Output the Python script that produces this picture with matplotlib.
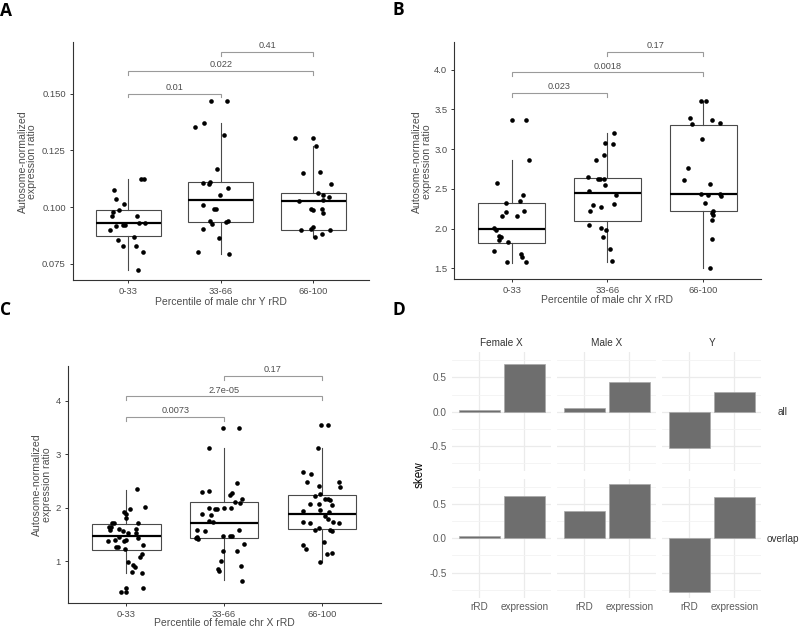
import matplotlib
matplotlib.use("Agg")
import matplotlib.pyplot as plt
import numpy as np

plt.rcParams['font.family'] = ['Liberation Sans', 'DejaVu Sans']

W, H = 800, 628
categories = ['0-33', '33-66', '66-100']

# ---------------- Panel A (male chr Y) ----------------
A1_y = [0.1073, 0.1035, 0.1013, 0.0978, 0.0985, 0.0962, 0.0962, 0.0899, 0.0918, 0.0919, 0.0919,
        0.0931, 0.0928, 0.0868, 0.0854, 0.0829, 0.0828, 0.0803, 0.0724, 0.1122, 0.1122]
A1_dx = [-0.151, -0.129, -0.050, -0.161, -0.100, -0.179, 0.093, -0.194, -0.133, -0.057, -0.032,
         0.118, 0.179, 0.057, -0.108, -0.061, 0.082, 0.154, 0.108, 0.133, 0.165]
A2_y = [0.1469, 0.1469, 0.1371, 0.1351, 0.1318, 0.1168, 0.1104, 0.1101, 0.1111, 0.1085, 0.1051,
        0.1009, 0.0990, 0.0990, 0.0904, 0.0940, 0.0925, 0.0935, 0.0940, 0.0863, 0.0801, 0.0791]
A2_dx = [-0.104, 0.068, -0.179, -0.276, 0.039, -0.039, -0.190, -0.133, -0.118, 0.072, -0.007,
         -0.190, -0.072, -0.057, -0.197, -0.115, -0.097, 0.054, 0.072, -0.022, -0.251, 0.086]
A3_y = [0.1306, 0.1306, 0.1268, 0.1149, 0.1153, 0.1101, 0.1060, 0.1051, 0.1028, 0.1031, 0.1043,
        0.0991, 0.0987, 0.0990, 0.0975, 0.0899, 0.0901, 0.0913, 0.0899, 0.0881, 0.0866]
A3_dx = [-0.197, -0.004, 0.029, -0.111, 0.075, 0.186, 0.054, 0.100, -0.161, 0.108, 0.172,
         -0.022, 0.000, 0.093, 0.108, -0.129, -0.022, -0.007, 0.179, 0.093, 0.018]
# box stats: whislo, q1, median, q3, whishi
A_box = [(0.0724, 0.0870, 0.0930, 0.0985, 0.1122),
         (0.0791, 0.0935, 0.1030, 0.1110, 0.1370),
         (0.0866, 0.0900, 0.1025, 0.1060, 0.1268)]
A_pvals = ['0.01', '0.022', '0.41']
A_bracket_y = [0.1500, 0.1600, 0.1685]

# ---------------- Panel B (male chr X) ----------------
B1_y = [3.367, 3.367, 2.863, 2.578, 2.423, 2.343, 2.318, 2.226, 2.209, 2.163, 2.154,
        2.003, 1.982, 1.907, 1.890, 1.857, 1.827, 1.722, 1.680, 1.638, 1.576, 1.576]
B1_dx = [0.000, 0.153, 0.178, -0.157, 0.118, 0.084, -0.056, 0.129, -0.063, -0.105, 0.056,
         -0.185, -0.160, -0.136, -0.108, -0.129, -0.035, -0.185, 0.094, 0.111, -0.049, 0.153]
B2_y = [3.207, 3.081, 3.060, 2.926, 2.859, 2.649, 2.620, 2.620, 2.628, 2.473, 2.544,
        2.423, 2.301, 2.309, 2.276, 2.226, 2.050, 2.003, 1.982, 1.898, 1.739, 1.588]
B2_dx = [0.070, -0.021, 0.059, -0.035, -0.118, -0.199, -0.094, -0.077, -0.035, -0.192, -0.024,
         0.087, -0.153, 0.066, -0.070, -0.181, -0.192, -0.070, -0.010, -0.045, 0.031, 0.045]
B3_y = [3.610, 3.610, 3.388, 3.316, 3.367, 3.325, 3.128, 2.767, 2.608, 2.566, 2.435,
        2.427, 2.431, 2.414, 2.318, 2.226, 2.192, 2.171, 2.108, 1.869, 1.500]
B3_dx = [-0.024, 0.028, -0.132, -0.111, 0.091, 0.181, -0.014, -0.160, -0.195, 0.077, -0.024,
         0.052, 0.178, 0.185, 0.017, 0.105, 0.098, 0.105, 0.094, 0.098, 0.077]
B_box = [(1.570, 1.820, 2.000, 2.320, 2.860),
         (1.580, 2.090, 2.450, 2.640, 3.200),
         (1.500, 2.220, 2.440, 3.310, 3.610)]
B_pvals = ['0.023', '0.0018', '0.17']
B_bracket_y = [3.71, 3.966, 4.222]

# ---------------- Panel C (female chr X) ----------------
C1_y = [2.351, 2.015, 1.977, 1.921, 1.884, 1.803, 1.722, 1.710, 1.641, 1.635, 1.579, 1.604, 1.573,
        1.722, 1.598, 1.535, 1.535, 1.448, 1.430, 1.386, 1.398, 1.374, 1.398, 1.274, 1.261, 1.237,
        1.311, 1.131, 1.087, 0.994, 0.932, 0.900, 0.795, 0.776, 0.496, 0.434, 0.434, 0.502]
C1_dx = [0.109, 0.187, 0.041, -0.020, -0.007, 0.000, -0.150, -0.129, -0.156, -0.177, -0.167, -0.075,
         -0.031, 0.119, 0.095, 0.102, 0.020, -0.075, 0.119, -0.190, -0.112, -0.020, 0.000, -0.109,
         -0.088, -0.010, 0.173, 0.160, 0.143, 0.017, 0.068, 0.092, 0.061, 0.156, 0.000, -0.003,
         -0.054, 0.170]
C2_y = [3.490, 3.490, 3.110, 2.301, 2.313, 2.456, 2.245, 2.270, 2.114, 2.158, 2.083, 1.996, 1.971,
        1.971, 1.996, 1.996, 1.884, 1.871, 1.747, 1.728, 1.591, 1.566, 1.461, 1.436, 1.423, 1.473,
        1.473, 1.480, 1.585, 1.324, 1.199, 1.187, 1.012, 0.851, 0.813, 0.919, 0.639]
C2_dx = [-0.007, 0.150, -0.153, -0.224, -0.156, 0.129, 0.061, 0.082, 0.116, 0.184, 0.163, -0.150,
         -0.088, -0.071, 0.000, 0.071, -0.228, -0.129, -0.156, -0.109, -0.279, -0.194, -0.279,
         -0.289, -0.269, -0.007, 0.061, 0.085, 0.153, 0.204, -0.014, 0.129, -0.034, -0.065,
         -0.051, 0.177, 0.184]
C3_y = [3.552, 3.552, 3.110, 2.662, 2.631, 2.481, 2.407, 2.481, 2.394, 2.226, 2.264, 2.170, 2.158,
        2.139, 2.077, 2.071, 2.046, 1.952, 1.940, 1.921, 1.847, 1.784, 1.728, 1.710, 1.722, 1.728,
        1.616, 1.585, 1.579, 1.573, 1.311, 1.237, 1.355, 1.162, 1.131, 0.994]
C3_dx = [-0.007, 0.065, -0.037, -0.190, -0.112, -0.156, -0.027, 0.180, 0.190, -0.071, -0.014,
         0.034, 0.065, 0.082, -0.122, -0.031, 0.105, -0.020, -0.190, 0.075, 0.031, 0.065, -0.197,
         -0.122, 0.177, 0.109, -0.027, -0.075, 0.088, 0.099, -0.197, -0.160, 0.020, 0.099, 0.048,
         -0.020]
C_box = [(0.780, 1.210, 1.480, 1.690, 2.330),
         (0.650, 1.440, 1.720, 2.110, 3.110),
         (0.990, 1.610, 1.880, 2.240, 3.110)]
C_pvals = ['0.0073', '2.7e-05', '0.17']
C_bracket_y = [3.70, 4.081, 4.46]

bracket_pairs = [(1, 2), (1, 3), (2, 3)]

# ---------------- Panel D (skew) ----------------
D_cols = ['Female X', 'Male X', 'Y']
D_rows = ['all', 'overlap']
D_xcats = ['rRD', 'expression']
D_all_rRD = [0.019, 0.049, -0.529]
D_all_expr = [0.689, 0.437, 0.282]
D_overlap_rRD = [0.039, 0.393, -0.786]
D_overlap_expr = [0.617, 0.791, 0.607]

fig = plt.figure(figsize=(W / 100, H / 100), dpi=100)


def px_axes(left, top, right, bottom):
    return fig.add_axes([left / W, 1 - bottom / H, (right - left) / W, (bottom - top) / H])


def ftext(x, y, s, **kw):
    fig.text(x / W, 1 - y / H, s, **kw)


TXT = '#4D4D4D'
AXC = '#333333'


def box_panel(ax, ys, dxs, box, pvals, by, ylim, yticks, ytl):
    stats = [dict(whislo=b[0], q1=b[1], med=b[2], q3=b[3], whishi=b[4], fliers=[]) for b in box]
    ax.bxp(stats, positions=[1, 2, 3], widths=0.7, showfliers=False, showcaps=False,
           patch_artist=True,
           boxprops=dict(facecolor='white', edgecolor='#4A4A4A', linewidth=0.8),
           medianprops=dict(color='black', linewidth=1.6),
           whiskerprops=dict(color='#4A4A4A', linewidth=0.8))
    for i, (y, dx) in enumerate(zip(ys, dxs)):
        ax.scatter(np.array(dx) + i + 1, y, s=11, color='black', zorder=3, linewidths=0)
    ax.set_xlim(0.4, 3.6)
    ax.set_ylim(*ylim)
    drop = (ylim[1] - ylim[0]) * 0.016
    for (i, j), yb, lab in zip(bracket_pairs, by, pvals):
        ax.plot([i, i, j, j], [yb - drop, yb, yb, yb - drop], color='#9A9A9A', lw=0.8,
                solid_joinstyle='miter')
        ax.annotate(lab, ((i + j) / 2, yb), xytext=(0, 1.2), textcoords='offset points',
                    ha='center', va='bottom', fontsize=6.6, color=TXT)
    ax.set_xticks([1, 2, 3])
    ax.set_xticklabels(categories)
    ax.set_yticks(yticks)
    ax.set_yticklabels(ytl)
    for s in ['top', 'right']:
        ax.spines[s].set_visible(False)
    for s in ['left', 'bottom']:
        ax.spines[s].set_color(AXC)
        ax.spines[s].set_linewidth(0.8)
    ax.tick_params(length=2.5, width=0.7, color=AXC, labelsize=6.8, labelcolor=TXT, pad=2.5)


axA = px_axes(72.7, 42, 369, 280)
box_panel(axA, [A1_y, A2_y, A3_y], [A1_dx, A2_dx, A3_dx], A_box, A_pvals, A_bracket_y,
          (0.0678, 0.1728), [0.075, 0.100, 0.125, 0.150], ['0.075', '0.100', '0.125', '0.150'])
axB = px_axes(454.3, 41.7, 760.5, 279.3)
box_panel(axB, [B1_y, B2_y, B3_y], [B1_dx, B2_dx, B3_dx], B_box, B_pvals, B_bracket_y,
          (1.362, 4.352), [1.5, 2.0, 2.5, 3.0, 3.5, 4.0], ['1.5', '2.0', '2.5', '3.0', '3.5', '4.0'])
axC = px_axes(67.7, 366, 380.5, 602.7)
box_panel(axC, [C1_y, C2_y, C3_y], [C1_dx, C2_dx, C3_dx], C_box, C_pvals, C_bracket_y,
          (0.228, 4.647), [1, 2, 3, 4], ['1', '2', '3', '4'])

ylab = 'Autosome-normalized\nexpression ratio'
ftext(27.5, 162, ylab, rotation=90, ha='center', va='center', fontsize=7.6, color=TXT, linespacing=0.95)
ftext(422, 162, ylab, rotation=90, ha='center', va='center', fontsize=7.6, color=TXT, linespacing=0.95)
ftext(42, 485, ylab, rotation=90, ha='center', va='center', fontsize=7.6, color=TXT, linespacing=0.95)
ftext(221, 302, 'Percentile of male chr Y rRD', ha='center', va='center', fontsize=7.5, color=TXT)
ftext(607, 300, 'Percentile of male chr X rRD', ha='center', va='center', fontsize=7.5, color=TXT)
ftext(224, 623, 'Percentile of female chr X rRD', ha='center', va='center', fontsize=7.5, color=TXT)

# Panel D facets
col_lr = [(452.3, 551.3), (557.3, 656.3), (662.3, 761.3)]
row_tb = [(352, 471.4), (478.6, 598)]
D_vals = [[D_all_rRD, D_all_expr], [D_overlap_rRD, D_overlap_expr]]
for r, (top, bot) in enumerate(row_tb):
    for c, (lft, rgt) in enumerate(col_lr):
        ax = px_axes(lft, top, rgt, bot)
        heights = [D_vals[r][0][c], D_vals[r][1][c]]
        ax.bar([1, 2], heights, width=0.9, color='#6E6E6E', edgecolor='#A8A8A8', linewidth=0.5,
               zorder=3)
        ax.set_xlim(0.4, 2.6)
        ax.set_ylim(-0.869, 0.869)
        ax.set_yticks([-0.5, 0.0, 0.5])
        ax.set_yticks([-0.75, -0.25, 0.25, 0.75], minor=True)
        ax.set_xticks([1, 2])
        ax.grid(True, which='major', color='#EBEBEB', lw=0.9, zorder=0)
        ax.grid(True, which='minor', axis='y', color='#F3F3F3', lw=0.6, zorder=0)
        ax.set_axisbelow(True)
        for s in ax.spines.values():
            s.set_visible(False)
        ax.tick_params(which='both', length=0, labelsize=7.2, labelcolor='#5A5A5A')
        ax.tick_params(axis='y', pad=4)
        ax.tick_params(axis='x', pad=3)
        if c == 0:
            ax.set_yticklabels(['-0.5', '0.0', '0.5'])
        else:
            ax.set_yticklabels([])
        if r == 1:
            ax.set_xticklabels(D_xcats)
        else:
            ax.set_xticklabels([])
        if r == 0:
            ftext((lft + rgt) / 2, 343, D_cols[c], ha='center', va='center', fontsize=7.2,
                  color='#333333')
    ftext(783, (top + bot) / 2 + 0.5, D_rows[r], ha='center', va='center', fontsize=7.2, color='#333333')
ftext(420, 475, 'skew', rotation=90, ha='center', va='center', fontsize=8.5, color='black')

# panel letters
for lab, x, y in [('A', 0, 16.5), ('B', 392, 15), ('C', 0, 315), ('D', 392, 315)]:
    fig.text(x / W, 1 - y / H, lab, ha='left', va='baseline', fontsize=12.5, fontweight='bold',
             family=['Open Sans', 'DejaVu Sans'], color='black')

fig.savefig('out.png', dpi=100, facecolor='white')
